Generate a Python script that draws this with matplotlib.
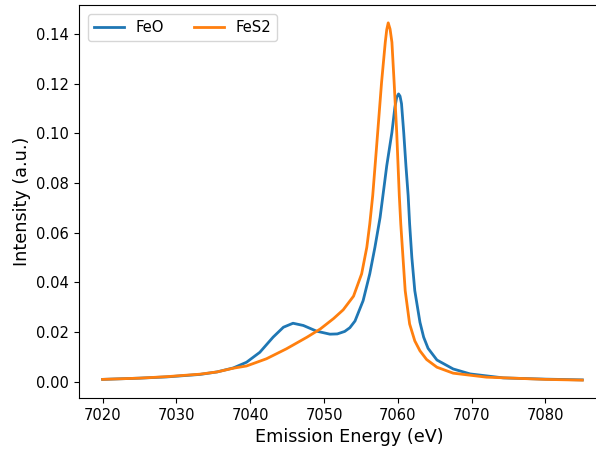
import numpy as np
import matplotlib
matplotlib.use('Agg')
from matplotlib import pyplot as plt

# FeO emission spectrum
feo_energy = [7020.0, 7025.0, 7028.7, 7033.2, 7035.5, 7037.7, 7039.5, 7041.3, 7043.1, 7044.5,
              7045.8, 7047.2, 7049.0, 7050.8, 7051.8, 7052.8, 7053.5, 7054.2, 7055.3, 7056.2,
              7056.9, 7057.6, 7058.2, 7058.5, 7059.2, 7059.6, 7059.85, 7060.1, 7060.3, 7060.5,
              7060.8, 7061.1, 7061.4, 7061.6, 7061.9, 7062.3, 7063.0, 7063.5, 7064.1, 7065.3,
              7067.5, 7069.8, 7074.3, 7080.0, 7085.0]
feo_intensity = [0.0010, 0.0015, 0.0020, 0.0030, 0.0040, 0.0056, 0.0079, 0.0119, 0.0180, 0.0220,
                 0.0236, 0.0227, 0.0204, 0.0192, 0.0193, 0.0203, 0.0218, 0.0245, 0.0327, 0.0435,
                 0.0542, 0.0662, 0.0800, 0.0870, 0.1004, 0.1105, 0.1145, 0.1159, 0.1150, 0.1120,
                 0.1004, 0.0870, 0.0750, 0.0636, 0.0501, 0.0367, 0.0240, 0.0180, 0.0135, 0.0088,
                 0.0052, 0.0032, 0.0016, 0.0011, 0.0008]

# FeS2 emission spectrum
fes2_energy = [7020.0, 7025.0, 7028.7, 7033.2, 7035.5, 7037.7, 7039.5, 7042.2, 7044.9, 7047.7,
               7049.5, 7051.3, 7052.6, 7054.0, 7055.1, 7055.8, 7056.2, 7056.6, 7057.1, 7057.8,
               7058.3, 7058.5, 7058.7, 7058.95, 7059.2, 7059.5, 7059.85, 7060.2, 7060.4, 7060.7,
               7061.0, 7061.6, 7062.3, 7063.0, 7063.9, 7065.3, 7067.5, 7072.0, 7080.0, 7085.0]
fes2_intensity = [0.0010, 0.0015, 0.0021, 0.0031, 0.0040, 0.0055, 0.0064, 0.0093, 0.0133, 0.0180,
                  0.0213, 0.0255, 0.0290, 0.0345, 0.0435, 0.0542, 0.0636, 0.0750, 0.0938, 0.1206,
                  0.1367, 0.1418, 0.1445, 0.1420, 0.1367, 0.1206, 0.1004, 0.0750, 0.0636, 0.0501,
                  0.0367, 0.0233, 0.0165, 0.0125, 0.0090, 0.0059, 0.0035, 0.0019, 0.0010, 0.0007]

fig = plt.figure(figsize=(5.96, 4.5), dpi=100)
# right spine sits past the edge of the saved image
ax = fig.add_axes([79 / 596, 52 / 450, 540 / 596, 393 / 450])

ax.plot(feo_energy, feo_intensity, label='FeO', linewidth=2)
ax.plot(fes2_energy, fes2_intensity, label='FeS2', linewidth=2)

ax.set_xlim(7016.8, 7016.8 + 540 / 7.38)
ax.set_xticks(np.arange(7020, 7081, 10))
ax.tick_params(labelsize=10.6)
ax.set_xlabel('Emission Energy (eV)', fontsize=12.7)
ax.set_ylabel('Intensity (a.u.)', fontsize=12.7)
ax.legend(loc='upper left', ncol=2, fontsize=10.7, borderaxespad=0.62)

fig.savefig('out.png', dpi=100)
